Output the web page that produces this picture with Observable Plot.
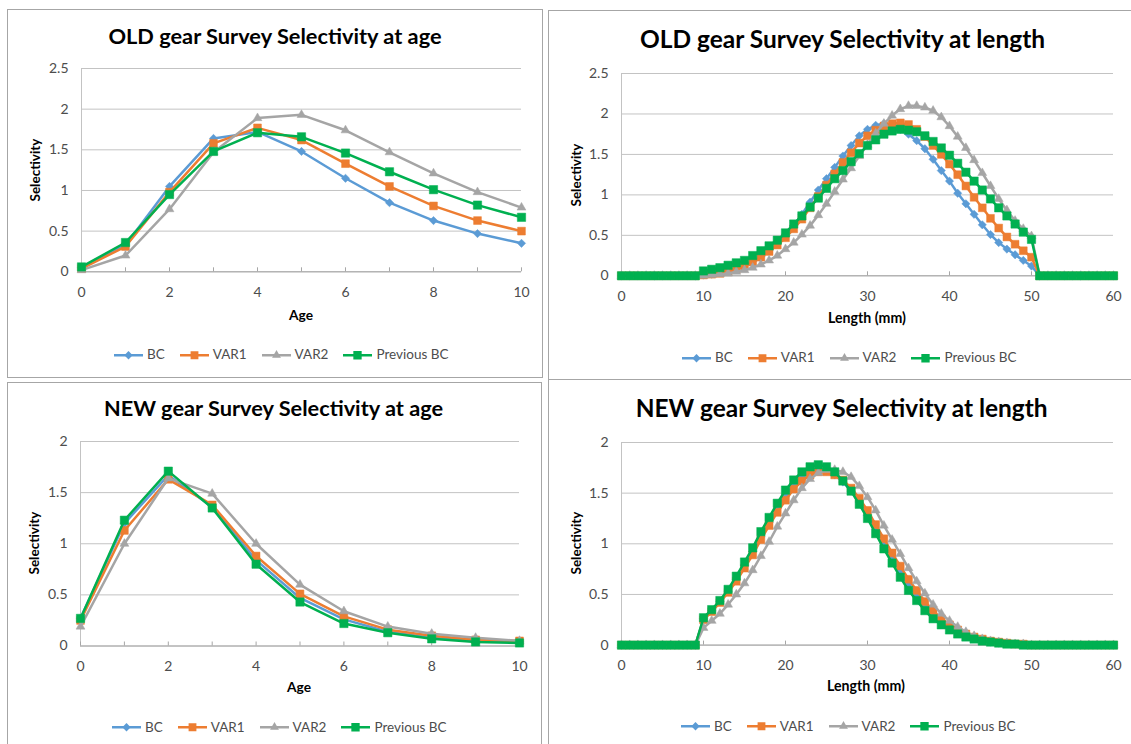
<!DOCTYPE html>
<html><head><meta charset="utf-8">
<script src="https://cdn.jsdelivr.net/npm/d3@7"></script>
<script src="https://cdn.jsdelivr.net/npm/@observablehq/plot@0.6"></script>
<style>
body{margin:0;background:#fff;}
#root{position:relative;width:1131px;height:744px;overflow:hidden;font-family:Lato,"Open Sans",sans-serif;background:#fff;}
.panel{position:absolute;border:1px solid #a6a6a6;box-sizing:border-box;background:#fff;}
.title{position:absolute;font-weight:bold;color:#000;white-space:nowrap;transform:translate(-50%,-50%);line-height:1;}
.axt{position:absolute;font-weight:bold;color:#000;white-space:nowrap;line-height:1;}
.legend{position:absolute;display:flex;align-items:center;font-size:13.5px;color:#4d4d4d;transform:translateY(-50%);white-space:nowrap;line-height:1;}
.legend .item{display:flex;align-items:center;margin-right:15px;}
.legend svg{margin-right:4px;}
</style></head><body><div id="root"></div><script>
// ---------- data ----------
const seriesNames = ["BC","VAR1","VAR2","Previous BC"];
const ageX = [0,1,2,3,4,5,6,7,8,9,10];
const lengthX = [0,1,2,3,4,5,6,7,8,9,10,11,12,13,14,15,16,17,18,19,20,21,22,23,24,25,26,27,28,29,30,31,32,33,34,35,36,37,38,39,40,41,42,43,44,45,46,47,48,49,50,51,52,53,54,55,56,57,58,59,60];
const ageTicks = [0,1,2,3,4,5,6,7,8,9,10];
const ageTickLabels = ["0","","2","","4","","6","","8","","10"];
const lengthTicks = [0,10,20,30,40,50,60];
const lengthTickLabels = ["0","10","20","30","40","50","60"];
const yTicksOld = [0,0.5,1,1.5,2,2.5];
const yTicksNew = [0,0.5,1,1.5,2];

const oldAgeBC   = [0.05,0.33,1.05,1.64,1.72,1.48,1.15,0.85,0.63,0.47,0.35];
const oldAgeVAR1 = [0.04,0.31,0.98,1.58,1.77,1.62,1.33,1.05,0.81,0.63,0.50];
const oldAgeVAR2 = [0.02,0.20,0.77,1.47,1.89,1.93,1.74,1.47,1.21,0.98,0.79];
const oldAgePrev = [0.06,0.36,0.95,1.48,1.71,1.66,1.46,1.23,1.01,0.82,0.67];

const newAgeBC   = [0.27,1.20,1.67,1.36,0.84,0.47,0.26,0.14,0.08,0.05,0.04];
const newAgeVAR1 = [0.25,1.13,1.63,1.38,0.88,0.51,0.29,0.16,0.10,0.06,0.05];
const newAgeVAR2 = [0.19,1.00,1.64,1.49,1.00,0.60,0.34,0.19,0.12,0.08,0.05];
const newAgePrev = [0.27,1.23,1.71,1.35,0.80,0.43,0.22,0.13,0.07,0.04,0.03];

const oldLenBC = [0,0,0,0,0,0,0,0,0,0,
  0.01,0.02,0.04,0.06,0.09,0.13,0.18,0.24,0.31,0.40,
  0.50,0.62,0.76,0.91,1.06,1.20,1.34,1.48,1.61,1.73,
  1.81,1.86,1.88,1.86,1.81,1.75,1.67,1.57,1.44,1.30,
  1.17,1.02,0.89,0.76,0.63,0.51,0.41,0.33,0.26,0.19,
  0.12,0,0,0,0,0,0,0,0,0,0];
const oldLenVAR1 = [0,0,0,0,0,0,0,0,0,0,
  0.01,0.02,0.03,0.05,0.08,0.12,0.17,0.23,0.30,0.38,
  0.47,0.58,0.70,0.84,0.98,1.12,1.26,1.40,1.52,1.64,
  1.73,1.80,1.85,1.88,1.89,1.87,1.81,1.72,1.61,1.50,
  1.38,1.25,1.11,0.97,0.84,0.71,0.59,0.48,0.39,0.31,
  0.23,0,0,0,0,0,0,0,0,0,0];
const oldLenVAR2 = [0,0,0,0,0,0,0,0,0,0,
  0.00,0.01,0.02,0.03,0.05,0.07,0.10,0.14,0.19,0.25,
  0.33,0.41,0.51,0.62,0.75,0.89,1.04,1.19,1.33,1.48,
  1.62,1.76,1.88,1.98,2.06,2.10,2.10,2.08,2.04,1.96,
  1.85,1.72,1.58,1.43,1.27,1.11,0.95,0.81,0.68,0.58,
  0.49,0,0,0,0,0,0,0,0,0,0];
const oldLenPrev = [0,0,0,0,0,0,0,0,0,0,
  0.06,0.08,0.10,0.13,0.16,0.19,0.25,0.31,0.37,0.44,
  0.53,0.64,0.74,0.85,0.96,1.08,1.20,1.30,1.41,1.51,
  1.61,1.68,1.75,1.79,1.81,1.80,1.78,1.73,1.66,1.58,
  1.49,1.39,1.28,1.17,1.06,0.95,0.84,0.74,0.64,0.54,
  0.45,0,0,0,0,0,0,0,0,0,0];

const newLenBC = [0,0,0,0,0,0,0,0,0,0,
  0.26,0.34,0.43,0.53,0.65,0.78,0.92,1.07,1.21,1.35,
  1.48,1.58,1.66,1.71,1.73,1.72,1.68,1.61,1.52,1.41,
  1.28,1.14,1.00,0.86,0.72,0.60,0.48,0.38,0.30,0.23,
  0.17,0.13,0.09,0.07,0.05,0.03,0.02,0.02,0.01,0.01,
  0,0,0,0,0,0,0,0,0,0,0];
const newLenVAR1 = [0,0,0,0,0,0,0,0,0,0,
  0.25,0.33,0.42,0.52,0.63,0.76,0.89,1.04,1.18,1.31,
  1.43,1.54,1.62,1.68,1.71,1.71,1.68,1.63,1.55,1.45,
  1.33,1.19,1.05,0.91,0.78,0.65,0.54,0.43,0.34,0.26,
  0.20,0.15,0.11,0.08,0.06,0.04,0.03,0.02,0.01,0.01,
  0,0,0,0,0,0,0,0,0,0,0];
const newLenVAR2 = [0,0,0,0,0,0,0,0,0,0,
  0.17,0.24,0.31,0.40,0.50,0.61,0.74,0.88,1.02,1.17,
  1.30,1.43,1.55,1.64,1.70,1.73,1.73,1.71,1.66,1.57,
  1.46,1.33,1.18,1.04,0.90,0.76,0.63,0.51,0.40,0.31,
  0.24,0.18,0.13,0.09,0.06,0.04,0.03,0.02,0.01,0.01,
  0,0,0,0,0,0,0,0,0,0,0];
const newLenPrev = [0,0,0,0,0,0,0,0,0,0,
  0.27,0.35,0.44,0.55,0.68,0.82,0.96,1.12,1.26,1.40,
  1.53,1.63,1.71,1.76,1.78,1.76,1.71,1.62,1.52,1.39,
  1.25,1.10,0.95,0.81,0.67,0.54,0.44,0.34,0.26,0.20,
  0.15,0.11,0.08,0.06,0.04,0.03,0.02,0.01,0.01,0,
  0,0,0,0,0,0,0,0,0,0,0];

// ---------- styles ----------
const FONT = "Lato, 'Open Sans', sans-serif";
const diamond = {draw(ctx, size){ const r = Math.sqrt(size/2); ctx.moveTo(0,-r); ctx.lineTo(r,0); ctx.lineTo(0,r); ctx.lineTo(-r,0); ctx.closePath(); }};
const styles = [
  {color:"#5B9BD5", symbol:diamond, r:3.3},
  {color:"#ED7D31", symbol:"square", r:4.4},
  {color:"#A5A5A5", symbol:"triangle", r:3.3},
  {color:"#00B050", symbol:"square", r:4.7}
];

const charts = [
  {title:"OLD gear Survey Selectivity at age", xLabel:"Age", xs:ageX, ys:[oldAgeBC,oldAgeVAR1,oldAgeVAR2,oldAgePrev],
   xDomain:[0,10], xTicks:ageTicks, xTickLabels:ageTickLabels, yMax:2.5, yTicks:yTicksOld,
   box:[7,9,536,369], frame:[81,521,271,67.7], t:[275,36.7,335], xl:[301,315,24], yl:[36,170,63], leg:[114,355]},
  {title:"OLD gear Survey Selectivity at length", xLabel:"Length (mm)", xs:lengthX, ys:[oldLenBC,oldLenVAR1,oldLenVAR2,oldLenPrev],
   xDomain:[0,60], xTicks:lengthTicks, xTickLabels:lengthTickLabels, yMax:2.5, yTicks:yTicksOld,
   box:[548,10,600,370], frame:[621,1113,275,72.7], t:[842.5,39.3,407], xl:[867,317.7,78], yl:[577,175,63], leg:[682,358]},
  {title:"NEW gear Survey Selectivity at age", xLabel:"Age", xs:ageX, ys:[newAgeBC,newAgeVAR1,newAgeVAR2,newAgePrev],
   xDomain:[0,10], xTicks:ageTicks, xTickLabels:ageTickLabels, yMax:2, yTicks:yTicksNew,
   box:[7,382,535,380], frame:[80,519,645.5,441], t:[273.5,409.3,341], xl:[299,687.3,24], yl:[35,543,63], leg:[112,727.7]},
  {title:"NEW gear Survey Selectivity at length", xLabel:"Length (mm)", xs:lengthX, ys:[newLenBC,newLenVAR1,newLenVAR2,newLenPrev],
   xDomain:[0,60], xTicks:lengthTicks, xTickLabels:lengthTickLabels, yMax:2, yTicks:yTicksNew,
   box:[548,379,600,380], frame:[621,1113,644.3,441.7], t:[841.7,408.3,414], xl:[866,686,78], yl:[577,543,63], leg:[681,726.7]}
];

const canvas = document.createElement("canvas");
const ctx2 = canvas.getContext("2d");
function fit(text, target){ ctx2.font = "bold 100px " + FONT; return 100*target/ctx2.measureText(text).width; }

const root = document.getElementById("root");

function addDiv(cls, css, text){ const d = document.createElement("div"); d.className = cls; Object.assign(d.style, css); if (text != null) d.textContent = text; root.appendChild(d); return d; }

for (const c of charts) {
  const [bl,bt,bw,bh] = c.box;
  addDiv("panel", {left:bl+"px", top:bt+"px", width:bw+"px", height:bh+"px"});
  addDiv("title", {left:c.t[0]+"px", top:c.t[1]+"px", fontSize:fit(c.title,c.t[2])+"px"}, c.title);

  const [x0,x1,y0,yT] = c.frame;
  const mL=50, mR=14, mT=10, mB=34;
  const rows = c.xs.map((x,i)=>({x, s0:c.ys[0][i], s1:c.ys[1][i], s2:c.ys[2][i], s3:c.ys[3][i]}));
  const labelMap = new Map(c.xTicks.map((t,i)=>[t, c.xTickLabels[i]]));
  const marks = [
    Plot.gridY({ticks:c.yTicks, stroke:"#c3c3c3", strokeOpacity:1}),
    Plot.ruleX([c.xDomain[0]], {stroke:"#c3c3c3"}),
    Plot.ruleY([0], {stroke:"#a6a6a6"}),
    Plot.ruleX(c.xTicks, {x:d=>d, y1:0, y2:0, insetTop:-4, stroke:"#a6a6a6"}),
    Plot.axisY({ticks:c.yTicks, tickSize:0, tickPadding:13, tickFormat:d=>String(d), label:null, fontSize:14}),
    Plot.axisX({ticks:c.xTicks, tickSize:0, tickPadding:15, tickFormat:d=>labelMap.get(d), label:null, fontSize:14})
  ];
  styles.forEach((st,k)=>{
    marks.push(Plot.line(rows, {x:"x", y:"s"+k, stroke:st.color, strokeWidth:2.5, strokeLinejoin:"round"}));
    marks.push(Plot.dot(rows, {x:"x", y:"s"+k, symbol:st.symbol, r:st.r, fill:st.color, stroke:st.color, strokeWidth:0.5}));
  });
  const svg = Plot.plot({
    width:x1-x0+mL+mR, height:y0-yT+mT+mB,
    marginLeft:mL, marginRight:mR, marginTop:mT, marginBottom:mB,
    style:{fontFamily:FONT, fontSize:"14px", color:"#4d4d4d", background:"transparent", overflow:"visible"},
    x:{domain:c.xDomain}, y:{domain:[0,c.yMax]},
    marks
  });
  svg.style.position="absolute"; svg.style.left=(x0-mL)+"px"; svg.style.top=(yT-mT)+"px";
  root.appendChild(svg);

  const xs = fit(c.xLabel, c.xl[2]);
  addDiv("axt", {left:c.xl[0]+"px", top:c.xl[1]+"px", fontSize:xs+"px", transform:"translate(-50%,-50%)"}, c.xLabel);
  const ys = fit("Selectivity", c.yl[2]);
  addDiv("axt", {left:c.yl[0]+"px", top:c.yl[1]+"px", fontSize:ys+"px", transform:"translate(-50%,-50%) rotate(-90deg)"}, "Selectivity");

  const leg = addDiv("legend", {left:c.leg[0]+"px", top:c.leg[1]+"px"});
  seriesNames.forEach((name,k)=>{
    const st = styles[k];
    const it = document.createElement("div"); it.className="item";
    const sw = d3.create("svg").attr("width",29).attr("height",12);
    sw.append("line").attr("x1",0).attr("x2",29).attr("y1",6).attr("y2",6).attr("stroke",st.color).attr("stroke-width",2.5);
    const symType = st.symbol === "square" ? d3.symbolSquare : st.symbol === "triangle" ? d3.symbolTriangle : st.symbol;
    sw.append("path").attr("transform","translate(14.5,6)").attr("d", d3.symbol().type(symType).size(Math.PI*st.r*st.r)()).attr("fill",st.color);
    it.appendChild(sw.node());
    const sp = document.createElement("span"); sp.textContent = name; it.appendChild(sp);
    leg.appendChild(it);
  });
}
</script></body></html>
